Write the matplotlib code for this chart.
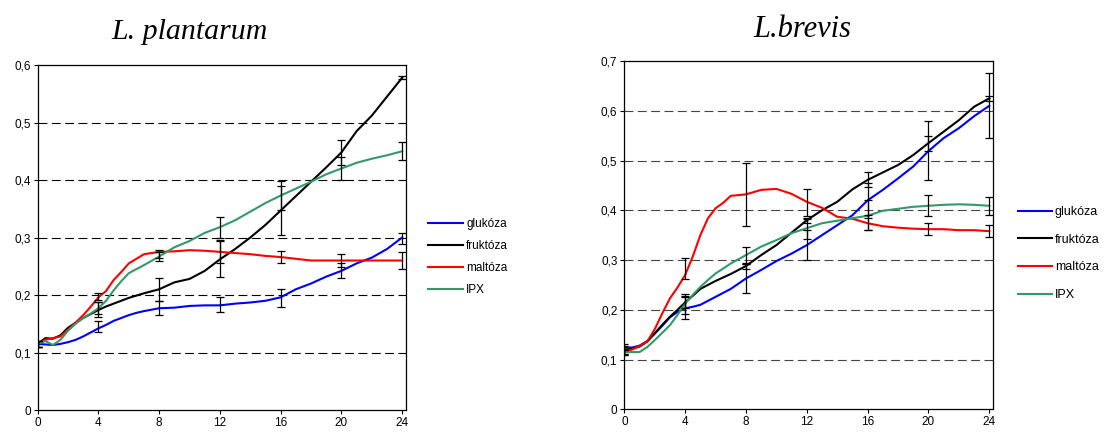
import matplotlib
matplotlib.use("Agg")
import matplotlib.pyplot as plt

plt.rcParams["font.family"] = ["Liberation Sans", "DejaVu Sans"]

# sampling times (h)
hours = [0, 0.5, 1, 1.5, 2, 2.5, 3, 3.5, 4, 4.5, 5, 5.5, 6, 6.5, 7,
         8, 9, 10, 11, 12, 13, 14, 15, 16, 17, 18, 19, 20, 21, 22, 23, 24]
err_hours = [0, 4, 8, 12, 16, 20, 24]

labels = ["glukóza", "fruktóza", "maltóza", "IPX"]
colors = ["#0000ff", "#000000", "#ff0000", "#339966"]

# L. plantarum growth curves
plant_glu = [0.115, 0.114, 0.113, 0.115, 0.118, 0.122, 0.128, 0.135, 0.142, 0.148, 0.155, 0.160, 0.165, 0.169, 0.172,
             0.177, 0.178, 0.181, 0.182, 0.182, 0.185, 0.187, 0.190, 0.196, 0.210, 0.220, 0.232, 0.242, 0.255, 0.265, 0.280, 0.300]
plant_fru = [0.115, 0.125, 0.124, 0.130, 0.143, 0.152, 0.160, 0.167, 0.174, 0.180, 0.185, 0.190, 0.195, 0.199, 0.203,
             0.210, 0.222, 0.228, 0.242, 0.262, 0.280, 0.300, 0.322, 0.347, 0.372, 0.397, 0.422, 0.448, 0.485, 0.512, 0.545, 0.578]
plant_mal = [0.115, 0.122, 0.125, 0.128, 0.140, 0.152, 0.165, 0.180, 0.196, 0.207, 0.226, 0.240, 0.255, 0.263, 0.271,
             0.275, 0.276, 0.278, 0.277, 0.275, 0.273, 0.271, 0.268, 0.266, 0.263, 0.260, 0.260, 0.260, 0.260, 0.260, 0.260, 0.260]
plant_ipx = [0.115, 0.120, 0.113, 0.122, 0.138, 0.150, 0.160, 0.168, 0.177, 0.190, 0.208, 0.224, 0.238, 0.245, 0.252,
             0.267, 0.283, 0.294, 0.308, 0.318, 0.330, 0.345, 0.360, 0.373, 0.385, 0.397, 0.410, 0.420, 0.430, 0.437, 0.443, 0.450]

plant_glu_m = [0.115, 0.145, 0.178, 0.183, 0.195, 0.243, 0.298]
plant_glu_e = [0.005, 0.010, 0.012, 0.013, 0.015, 0.013, 0.010]
plant_fru_m = [0.115, 0.174, 0.210, 0.263, 0.347, 0.448, 0.578]
plant_fru_e = [0.005, 0.013, 0.020, 0.031, 0.043, 0.022, 0.003]
plant_mal_m = [0.115, 0.197, 0.272, 0.275, 0.266, 0.260, 0.260]
plant_mal_e = [0.005, 0.006, 0.007, 0.020, 0.011, 0.011, 0.015]
plant_ipx_m = [0.115, 0.177, 0.267, 0.318, 0.373, 0.420, 0.450]
plant_ipx_e = [0.005, 0.010, 0.007, 0.018, 0.025, 0.020, 0.016]

# L. brevis growth curves
brev_glu = [0.125, 0.124, 0.128, 0.137, 0.152, 0.168, 0.185, 0.196, 0.203, 0.206, 0.210, 0.218, 0.226, 0.234, 0.242,
            0.263, 0.280, 0.298, 0.313, 0.330, 0.350, 0.370, 0.390, 0.420, 0.441, 0.464, 0.488, 0.519, 0.545, 0.565, 0.589, 0.610]
brev_fru = [0.120, 0.122, 0.126, 0.136, 0.153, 0.170, 0.186, 0.200, 0.215, 0.228, 0.242, 0.250, 0.258, 0.265, 0.272,
            0.288, 0.310, 0.330, 0.355, 0.380, 0.400, 0.417, 0.442, 0.461, 0.476, 0.491, 0.511, 0.535, 0.558, 0.581, 0.608, 0.625]
brev_mal = [0.115, 0.120, 0.127, 0.136, 0.161, 0.193, 0.223, 0.245, 0.270, 0.307, 0.350, 0.384, 0.404, 0.415, 0.429,
            0.432, 0.441, 0.443, 0.433, 0.417, 0.405, 0.387, 0.383, 0.374, 0.368, 0.365, 0.363, 0.362, 0.362, 0.360, 0.360, 0.358]
brev_ipx = [0.115, 0.115, 0.115, 0.125, 0.139, 0.154, 0.169, 0.190, 0.212, 0.230, 0.246, 0.260, 0.273, 0.283, 0.293,
            0.310, 0.327, 0.340, 0.354, 0.364, 0.374, 0.379, 0.384, 0.389, 0.399, 0.403, 0.407, 0.409, 0.411, 0.412, 0.411, 0.409]

brev_glu_m = [0.122, 0.203, 0.263, 0.330, 0.420, 0.520, 0.610]
brev_glu_e = [0.010, 0.022, 0.030, 0.030, 0.035, 0.060, 0.065]
brev_fru_m = [0.120, 0.215, 0.288, 0.380, 0.461, 0.535, 0.625]
brev_fru_e = [0.008, 0.012, 0.006, 0.005, 0.015, 0.015, 0.005]
brev_mal_m = [0.115, 0.283, 0.432, 0.415, 0.375, 0.362, 0.358]
brev_mal_e = [0.005, 0.022, 0.063, 0.027, 0.015, 0.012, 0.012]
brev_ipx_m = [0.115, 0.212, 0.310, 0.363, 0.390, 0.410, 0.409]
brev_ipx_e = [0.005, 0.020, 0.017, 0.020, 0.030, 0.021, 0.018]

fig = plt.figure(figsize=(11.05, 4.32), dpi=100)
ax1 = fig.add_axes([0.0341, 0.0509, 0.3333, 0.7986])
ax2 = fig.add_axes([0.5650, 0.0525, 0.3337, 0.8063])


def draw_panel(ax, curves, errs, ymax, grid_color):
    for ys, c, lab in zip(curves, colors, labels):
        ax.plot(hours, ys, color=c, lw=1.5, label=lab, zorder=2)
    for m, e in errs:
        ax.errorbar(err_hours, m, yerr=e, fmt="none", ecolor="black",
                    elinewidth=0.9, capsize=3, capthick=0.9, zorder=3)
    ax.set_xlim(0, 24.25)
    ax.set_ylim(0, ymax)
    ax.set_xticks(range(0, 25, 4))
    ticks = [i / 10 for i in range(int(round(ymax * 10)) + 1)]
    ax.set_yticks(ticks)
    ax.set_yticklabels([f"{t:.1f}".replace(".", ",") if t > 0 else "0" for t in ticks])
    for t in ticks[1:-1]:
        ax.axhline(t, color=grid_color, lw=0.8, ls=(0, (8, 4)), zorder=1)
    for s in ax.spines.values():
        s.set_linewidth(0.9)
    ax.tick_params(labelsize=8.5, length=3, width=0.8, pad=2)


draw_panel(ax1, [plant_glu, plant_fru, plant_mal, plant_ipx],
           [(plant_glu_m, plant_glu_e), (plant_fru_m, plant_fru_e),
            (plant_mal_m, plant_mal_e), (plant_ipx_m, plant_ipx_e)],
           0.6, "black")
draw_panel(ax2, [brev_glu, brev_fru, brev_mal, brev_ipx],
           [(brev_glu_m, brev_glu_e), (brev_fru_m, brev_fru_e),
            (brev_mal_m, brev_mal_e), (brev_ipx_m, brev_ipx_e)],
           0.7, "#444444")

ax1.legend(loc="upper left", bbox_to_anchor=(428 / 1105, 1 - 218 / 432),
           bbox_transform=fig.transFigure, frameon=False, fontsize=8.5,
           handlelength=3.0, handletextpad=0.25, labelspacing=0.85,
           borderaxespad=0, borderpad=0)
ax2.legend(loc="upper left", bbox_to_anchor=(1018 / 1105, 1 - 206 / 432),
           bbox_transform=fig.transFigure, frameon=False, fontsize=9,
           handlelength=2.7, handletextpad=0.25, labelspacing=1.25,
           borderaxespad=0, borderpad=0)

fig.text(190 / 1105, 1 - 39 / 432, "L. plantarum", ha="center", va="baseline",
         family="Liberation Serif", style="italic", fontsize=21.5)
fig.text(802 / 1105, 1 - 37 / 432, "L.brevis", ha="center", va="baseline",
         family="Liberation Serif", style="italic", fontsize=22)

fig.savefig("out.png", dpi=100)
